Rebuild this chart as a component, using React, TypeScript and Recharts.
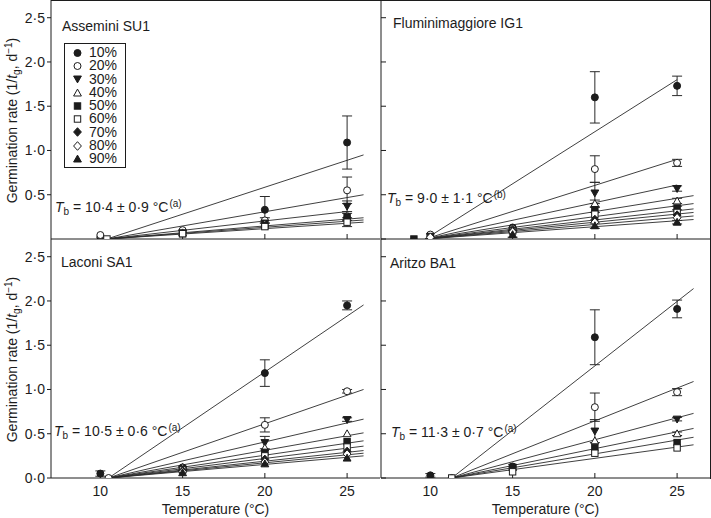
import { ComposedChart, ErrorBar, Legend, Scatter, XAxis, YAxis } from "recharts";

const temperatures = [10, 15, 20, 25];
const percentiles = ["10%", "20%", "30%", "40%", "50%", "60%", "70%", "80%", "90%"];
const xTicks = [10, 15, 20, 25];
const yTicks = [0, 0.5, 1, 1.5, 2, 2.5];

const siteNames = ["Assemini SU1", "Fluminimaggiore IG1", "Laconi SA1", "Aritzo BA1"];
const baseTemps = [10.4, 9.0, 10.5, 11.3];
const baseTempErrors = [0.9, 1.1, 0.6, 0.7];
const baseTempGroups = ["a", "b", "a", "a"];

// Assemini SU1 (rows = percentiles, cols = temperatures)
const asseminiRates = [
  [0.02, 0.08, 0.33, 1.09],
  [0.045, 0.1, 0.21, 0.55],
  [null, 0.07, 0.18, 0.37],
  [null, 0.07, 0.17, 0.27],
  [null, 0.06, 0.15, 0.25],
  [null, 0.06, 0.14, 0.19],
];
const asseminiErrors = [
  [0, 0, 0.15, 0.3],
  [0, 0, 0.03, 0.15],
  [0, 0, 0, 0.06],
  [0, 0, 0, 0],
  [0, 0, 0, 0.04],
  [0, 0, 0, 0.05],
];
const asseminiFitEnd = [0.95, 0.5, 0.31, 0.24, 0.215, 0.19];
const asseminiFitEndX = [26, 26, 25, 26, 26, 26];

// Fluminimaggiore IG1
const fluminiRates = [
  [0.03, 0.13, 1.6, 1.73],
  [0.05, 0.12, 0.79, 0.86],
  [0.03, 0.06, 0.52, 0.57],
  [null, 0.11, 0.4, 0.43],
  [null, 0.1, 0.33, 0.35],
  [null, 0.09, 0.28, 0.3],
  [null, 0.09, 0.22, 0.27],
  [0.02, 0.08, 0.19, 0.24],
  [null, 0.05, 0.15, 0.19],
];
const fluminiErrors = [
  [0, 0, 0.29, 0.11],
  [0, 0, 0.15, 0.04],
  [0, 0.04, 0.12, 0.03],
  [0, 0, 0.04, 0.03],
  [0, 0, 0.03, 0.02],
  [0, 0, 0, 0],
  [0, 0, 0, 0],
  [0, 0, 0, 0],
  [0, 0, 0.03, 0.02],
];
const fluminiFitEnd = [1.8, 0.9, 0.61, 0.49, 0.4, 0.34, 0.3, 0.26, 0.22];
const fluminiFitEndX = [25, 25, 25, 26, 26, 26, 26, 26, 26];

// Laconi SA1
const laconiRates = [
  [0.05, 0.12, 1.185, 1.95],
  [null, 0.11, 0.6, 0.98],
  [null, 0.1, 0.4, 0.66],
  [null, 0.12, 0.34, 0.5],
  [null, 0.1, 0.29, 0.41],
  [null, 0.09, 0.25, 0.35],
  [null, 0.08, 0.21, 0.3],
  [null, 0.07, 0.18, 0.27],
  [null, 0.06, 0.16, 0.225],
];
const laconiErrors = [
  [0.03, 0, 0.15, 0.05],
  [0, 0, 0.08, 0.02],
  [0, 0, 0.07, 0.02],
  [0, 0, 0, 0],
  [0, 0, 0, 0],
  [0, 0, 0, 0],
  [0, 0, 0, 0],
  [0, 0, 0, 0],
  [0, 0, 0, 0],
];
const laconiFitEnd = [1.955, 1.0, 0.665, 0.51, 0.42, 0.36, 0.31, 0.28, 0.25];
const laconiFitEndX = [26, 26, 26, 26, 26, 26, 26, 26, 26];

// Aritzo BA1
const aritzoRates = [
  [0.03, 0.13, 1.59, 1.91],
  [null, 0.12, 0.8, 0.97],
  [null, 0.12, 0.53, 0.665],
  [null, 0.12, 0.42, 0.5],
  [null, 0.12, 0.345, 0.4],
  [null, 0.07, 0.28, 0.34],
];
const aritzoErrors = [
  [0.02, 0, 0.31, 0.1],
  [0, 0, 0.16, 0.04],
  [0, 0, 0.13, 0.02],
  [0, 0, 0, 0.02],
  [0, 0, 0, 0],
  [0, 0, 0, 0],
];
const aritzoFitEnd = [2.14, 1.09, 0.73, 0.56, 0.46, 0.375];
const aritzoFitEndX = [26, 26, 26, 26, 26, 26];

// where the fitted lines leave the x-axis, and which series show a point there
const fitStarts = [10.4, 9.7, 10.5, 11.3];
const zeroPointX = [10.4, 9.0, 10.5, 11.3];
const zeroPointSeries = [[5], [4], [1], [1, 5]];

const markerShapes = ["circle", "circle", "triDown", "triUp", "square", "square", "diamond", "diamond", "triUp"];
const markerFilled = [true, false, true, false, true, false, true, false, true];

const INK = "#1c1c1c";
const FONT = '"Liberation Sans", Arial, Helvetica, sans-serif';
const FS = 14;

const fmt = (v: number) => v.toFixed(1).replace(".", "·");

function Marker({ cx, cy, kind }: { cx: number; cy: number; kind: number }) {
  const fill = markerFilled[kind] ? INK : "#fff";
  const common = { fill, stroke: INK, strokeWidth: 1 };
  switch (markerShapes[kind]) {
    case "circle":
      return <circle cx={cx} cy={cy} r={3.5} {...common} />;
    case "square":
      return <rect x={cx - 3.2} y={cy - 3.2} width={6.4} height={6.4} {...common} />;
    case "triDown":
      return <polygon points={`${cx - 3.9},${cy - 3} ${cx + 3.9},${cy - 3} ${cx},${cy + 3.9}`} {...common} />;
    case "triUp":
      return <polygon points={`${cx - 3.9},${cy + 3} ${cx + 3.9},${cy + 3} ${cx},${cy - 3.9}`} {...common} />;
    default:
      return <polygon points={`${cx},${cy - 4.3} ${cx + 3.9},${cy} ${cx},${cy + 4.3} ${cx - 3.9},${cy}`} {...common} />;
  }
}

function PercentileLegend() {
  return (
    <div style={{ border: `1px solid ${INK}`, boxSizing: "border-box", width: 62, height: 125, padding: "2px 0", background: "#fff", fontFamily: FONT }}>
      {percentiles.map((p, i) => (
        <div key={p} style={{ display: "flex", alignItems: "center", height: 13.3 }}>
          <svg width={24} height={12} style={{ flex: "none" }}>
            <Marker cx={12.5} cy={6} kind={i} />
          </svg>
          <span style={{ fontSize: FS, lineHeight: "13.3px", color: INK }}>{p}</span>
        </div>
      ))}
    </div>
  );
}

function RateLabel(props: any) {
  const vb = props.viewBox || { x: 0, y: 0, width: 51, height: 239 };
  const cx = vb.x + 17;
  const cy = vb.y + vb.height / 2 + 1;
  return (
    <text x={cx} y={cy} transform={`rotate(-90, ${cx}, ${cy})`} textAnchor="middle" fontSize={FS} fill={INK} fontFamily={FONT}>
      Germination rate (1/<tspan fontStyle="italic">t</tspan>
      <tspan dy={3} fontSize={10}>g</tspan>
      <tspan dy={-3}>, d</tspan>
      <tspan dy={-5} fontSize={10}>−1</tspan>
      <tspan dy={5}>)</tspan>
    </text>
  );
}

const panels = [
  { rates: asseminiRates, errors: asseminiErrors, fitEnd: asseminiFitEnd, fitEndX: asseminiFitEndX },
  { rates: fluminiRates, errors: fluminiErrors, fitEnd: fluminiFitEnd, fitEndX: fluminiFitEndX },
  { rates: laconiRates, errors: laconiErrors, fitEnd: laconiFitEnd, fitEndX: laconiFitEndX },
  { rates: aritzoRates, errors: aritzoErrors, fitEnd: aritzoFitEnd, fitEndX: aritzoFitEndX },
];

// layout of the 2 x 2 grid
const PLOT_H = 239;
const panelPos = [
  { left: 0, top: 0, title: [62, 18], tb: [55, 196] },
  { left: 380, top: 0, title: [393, 15], tb: [387, 187] },
  { left: 0, top: 239, title: [61, 254], tb: [54, 420] },
  { left: 380, top: 239, title: [390, 255], tb: [391, 421] },
];

function Panel({ index }: { index: number }) {
  const p = panels[index];
  const pos = panelPos[index];
  const isLeft = index % 2 === 0;
  const isBottom = index >= 2;
  const xAxisHeight = isBottom ? 40 : 1;
  const width = isLeft ? 380 : 331;

  const seriesPoints = p.rates.map((row, i) => {
    const pts: { x: number; y: number; err?: number }[] = [];
    row.forEach((v, j) => {
      if (v == null) return;
      const e = p.errors[i][j];
      pts.push({ x: temperatures[j], y: v, err: e ? e : undefined });
    });
    if (zeroPointSeries[index].includes(i)) pts.unshift({ x: zeroPointX[index], y: 0 });
    return pts;
  });

  const fits = p.fitEnd.map((v, i) => [
    { x: fitStarts[index], y: 0 },
    { x: p.fitEndX[i], y: v },
  ]);

  return (
    <div style={{ position: "absolute", left: pos.left, top: pos.top }}>
      <ComposedChart
        width={width}
        height={PLOT_H + xAxisHeight}
        margin={{ top: 0, right: isLeft ? 0 : 1, left: 0, bottom: 0 }}
      >
        <XAxis
          type="number"
          dataKey="x"
          domain={[7, 27]}
          ticks={xTicks}
          allowDataOverflow
          height={xAxisHeight}
          stroke={INK}
          tickSize={-5}
          tickMargin={13}
          tick={{ fontSize: FS, fill: INK }}
          tickFormatter={(v) => (isBottom ? String(v) : "")}
          label={
            isBottom
              ? { value: "Temperature (°C)", position: "insideBottom", offset: 4, fontSize: FS, fill: INK }
              : undefined
          }
        />
        <YAxis
          type="number"
          dataKey="y"
          domain={[0, 2.7]}
          ticks={yTicks}
          allowDataOverflow
          width={isLeft ? 51 : 1}
          stroke={INK}
          tickSize={isLeft ? 4 : -5}
          tickMargin={2}
          tick={{ fontSize: FS, fill: INK }}
          tickFormatter={(v) => (isLeft ? fmt(v) : "")}
          label={isLeft ? (props: any) => <RateLabel {...props} /> : undefined}
        />
        {fits.map((f, i) => (
          <Scatter
            key={`fit-${i}`}
            data={f}
            line={{ stroke: "#2a2a2a", strokeWidth: 0.9 }}
            shape={() => <g />}
            legendType="none"
            isAnimationActive={false}
          />
        ))}
        {seriesPoints.map((pts, i) => (
          <Scatter
            key={`pts-${i}`}
            name={percentiles[i]}
            data={pts}
            shape={(props: any) => <Marker cx={props.cx} cy={props.cy} kind={i} />}
            isAnimationActive={false}
          >
            <ErrorBar dataKey="err" direction="y" width={5} stroke="#2a2a2a" strokeWidth={1} />
          </Scatter>
        ))}
        {index === 0 && (
          <Legend
            layout="horizontal"
            verticalAlign="middle"
            align="center"
            content={() => <PercentileLegend />}
            wrapperStyle={{ left: 64, top: 43, width: 62, height: 125 }}
          />
        )}
      </ComposedChart>
    </div>
  );
}

export default function App() {
  return (
    <div
      style={{
        position: "absolute",
        left: 0,
        top: 0,
        width: 711,
        height: 518,
        background: "#fff",
        fontFamily: FONT,
        color: INK,
      }}
    >
      {panels.map((_, i) => (
        <Panel key={i} index={i} />
      ))}
      <div
        style={{
          position: "absolute",
          left: 51,
          top: 0,
          width: 659,
          height: 478,
          borderTop: `1px solid ${INK}`,
          borderRight: `1px solid ${INK}`,
          pointerEvents: "none",
        }}
      />
      {panelPos.map((pos, i) => (
        <div key={`t-${i}`} style={{ position: "absolute", left: pos.title[0], top: pos.title[1], fontSize: FS, lineHeight: "16px" }}>
          {siteNames[i]}
        </div>
      ))}
      {panelPos.map((pos, i) => (
        <div key={`tb-${i}`} style={{ position: "absolute", left: pos.tb[0], top: pos.tb[1], fontSize: FS, lineHeight: "16px", whiteSpace: "nowrap" }}>
          <i>T</i>
          <span style={{ fontSize: 10, verticalAlign: -3 }}>b</span> = {fmt(baseTemps[i])} ± {fmt(baseTempErrors[i])} °C
          <span style={{ fontSize: 10, verticalAlign: 5, marginLeft: 1 }}>({baseTempGroups[i]})</span>
        </div>
      ))}
    </div>
  );
}
